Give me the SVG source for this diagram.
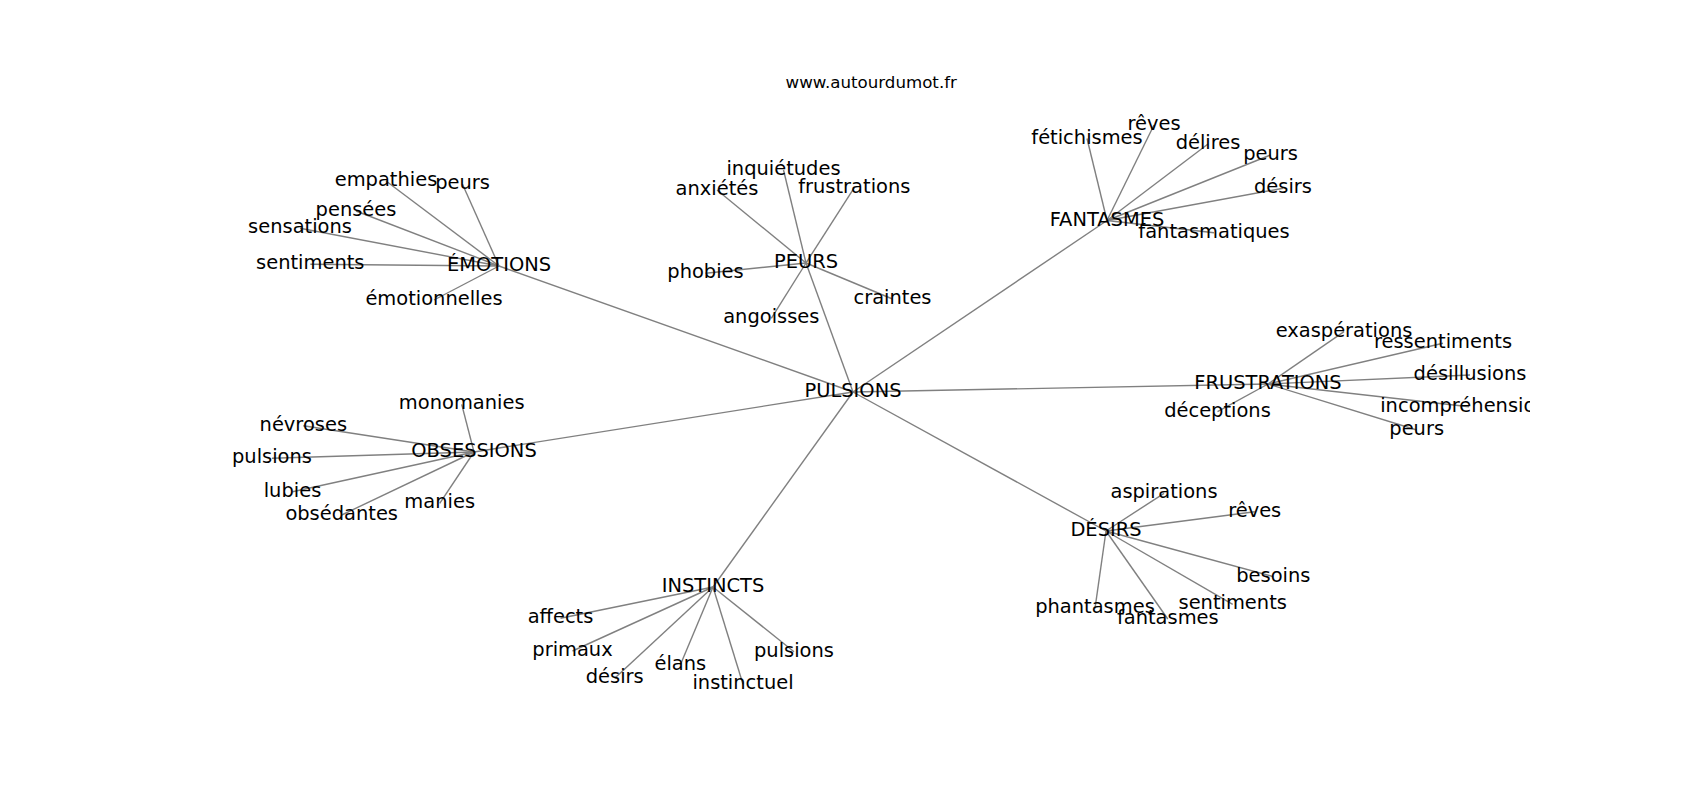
<svg xmlns="http://www.w3.org/2000/svg" width="1700" height="800" viewBox="0 0 1700 800">
<style>
.e{stroke:#808080;stroke-width:1.4;fill:none}
text{font-family:"DejaVu Sans","Liberation Sans",sans-serif;font-size:19.44px;fill:#000;text-anchor:middle}
.t{font-size:16.67px}
</style>
<defs><clipPath id="ax"><rect x="212.5" y="96" width="1317.5" height="616"/></clipPath></defs>
<rect width="1700" height="800" fill="#fff"/>
<text class="t" x="871.25" y="87.7">www.autourdumot.fr</text>
<g id="edges">
<line class="e" x1="853" y1="392" x2="499" y2="266"/>
<line class="e" x1="853" y1="392" x2="806" y2="263"/>
<line class="e" x1="853" y1="392" x2="1107" y2="220.5"/>
<line class="e" x1="853" y1="392" x2="1268" y2="384"/>
<line class="e" x1="853" y1="392" x2="1106" y2="531"/>
<line class="e" x1="853" y1="392" x2="713" y2="587"/>
<line class="e" x1="853" y1="392" x2="474" y2="452"/>
<line class="e" x1="499" y1="266" x2="386" y2="181"/>
<line class="e" x1="499" y1="266" x2="462.5" y2="184.3"/>
<line class="e" x1="499" y1="266" x2="356" y2="211"/>
<line class="e" x1="499" y1="266" x2="300" y2="228.3"/>
<line class="e" x1="499" y1="266" x2="310.3" y2="264.3"/>
<line class="e" x1="499" y1="266" x2="434" y2="300"/>
<line class="e" x1="806" y1="263" x2="783.5" y2="170"/>
<line class="e" x1="806" y1="263" x2="717" y2="190"/>
<line class="e" x1="806" y1="263" x2="854.3" y2="187.7"/>
<line class="e" x1="806" y1="263" x2="705.5" y2="273.3"/>
<line class="e" x1="806" y1="263" x2="892.5" y2="299"/>
<line class="e" x1="806" y1="263" x2="771.3" y2="318.3"/>
<line class="e" x1="1107" y1="220.5" x2="1087" y2="138.5"/>
<line class="e" x1="1107" y1="220.5" x2="1154" y2="125"/>
<line class="e" x1="1107" y1="220.5" x2="1208" y2="144"/>
<line class="e" x1="1107" y1="220.5" x2="1270.5" y2="155"/>
<line class="e" x1="1107" y1="220.5" x2="1283" y2="188.3"/>
<line class="e" x1="1107" y1="220.5" x2="1214" y2="232.7"/>
<line class="e" x1="1268" y1="384" x2="1344" y2="331.7"/>
<line class="e" x1="1268" y1="384" x2="1443" y2="343.3"/>
<line class="e" x1="1268" y1="384" x2="1470" y2="375"/>
<line class="e" x1="1268" y1="384" x2="1469" y2="406.7"/>
<line class="e" x1="1268" y1="384" x2="1416.7" y2="430"/>
<line class="e" x1="1268" y1="384" x2="1217.5" y2="411.7"/>
<line class="e" x1="1106" y1="531" x2="1164" y2="493.3"/>
<line class="e" x1="1106" y1="531" x2="1254.7" y2="511.7"/>
<line class="e" x1="1106" y1="531" x2="1273.3" y2="576.7"/>
<line class="e" x1="1106" y1="531" x2="1232.7" y2="604.3"/>
<line class="e" x1="1106" y1="531" x2="1167.8" y2="619"/>
<line class="e" x1="1106" y1="531" x2="1095" y2="608.3"/>
<line class="e" x1="713" y1="587" x2="560.5" y2="618.3"/>
<line class="e" x1="713" y1="587" x2="572.5" y2="651"/>
<line class="e" x1="713" y1="587" x2="614.7" y2="678.3"/>
<line class="e" x1="713" y1="587" x2="680.3" y2="665"/>
<line class="e" x1="713" y1="587" x2="743" y2="684.3"/>
<line class="e" x1="713" y1="587" x2="794" y2="651.7"/>
<line class="e" x1="474" y1="452" x2="461.7" y2="404.3"/>
<line class="e" x1="474" y1="452" x2="303.3" y2="425.7"/>
<line class="e" x1="474" y1="452" x2="272" y2="458.3"/>
<line class="e" x1="474" y1="452" x2="292.5" y2="491.7"/>
<line class="e" x1="474" y1="452" x2="341.7" y2="515"/>
<line class="e" x1="474" y1="452" x2="439.7" y2="503.3"/>
</g>
<g id="nodes">
<g id="n-pulsions"><text x="853" y="397">PULSIONS</text></g>
<g id="n-emotions"><text x="499" y="271">ÉMOTIONS</text></g>
<g id="n-emotions-empathies"><text x="386" y="186">empathies</text></g>
<g id="n-emotions-peurs"><text x="462.5" y="189.3">peurs</text></g>
<g id="n-emotions-pensees"><text x="356" y="216">pensées</text></g>
<g id="n-emotions-sensations"><text x="300" y="233.3">sensations</text></g>
<g id="n-emotions-sentiments"><text x="310.3" y="269.3">sentiments</text></g>
<g id="n-emotions-emotionnelles"><text x="434" y="305">émotionnelles</text></g>
<g id="n-peurs"><text x="806" y="268">PEURS</text></g>
<g id="n-peurs-inquietudes"><text x="783.5" y="175">inquiétudes</text></g>
<g id="n-peurs-anxietes"><text x="717" y="195">anxiétés</text></g>
<g id="n-peurs-frustrations"><text x="854.3" y="192.7">frustrations</text></g>
<g id="n-peurs-phobies"><text x="705.5" y="278.3">phobies</text></g>
<g id="n-peurs-craintes"><text x="892.5" y="304">craintes</text></g>
<g id="n-peurs-angoisses"><text x="771.3" y="323.3">angoisses</text></g>
<g id="n-fantasmes"><text x="1107" y="225.5">FANTASMES</text></g>
<g id="n-fantasmes-fetichismes"><text x="1087" y="143.5">fétichismes</text></g>
<g id="n-fantasmes-reves"><text x="1154" y="130">rêves</text></g>
<g id="n-fantasmes-delires"><text x="1208" y="149">délires</text></g>
<g id="n-fantasmes-peurs"><text x="1270.5" y="160">peurs</text></g>
<g id="n-fantasmes-desirs"><text x="1283" y="193.3">désirs</text></g>
<g id="n-fantasmes-fantasmatiques"><text x="1214" y="237.7">fantasmatiques</text></g>
<g id="n-frustrations"><text x="1268" y="389">FRUSTRATIONS</text></g>
<g id="n-frustrations-exasperations"><text x="1344" y="336.7">exaspérations</text></g>
<g id="n-frustrations-ressentiments"><text x="1443" y="348.3">ressentiments</text></g>
<g id="n-frustrations-desillusions"><text x="1470" y="380">désillusions</text></g>
<g id="n-frustrations-incomprehensions"><text x="1469" y="411.7" clip-path="url(#ax)">incompréhensions</text></g>
<g id="n-frustrations-peurs"><text x="1416.7" y="435">peurs</text></g>
<g id="n-frustrations-deceptions"><text x="1217.5" y="416.7">déceptions</text></g>
<g id="n-desirs"><text x="1106" y="536">DÉSIRS</text></g>
<g id="n-desirs-aspirations"><text x="1164" y="498.3">aspirations</text></g>
<g id="n-desirs-reves"><text x="1254.7" y="516.7">rêves</text></g>
<g id="n-desirs-besoins"><text x="1273.3" y="581.7">besoins</text></g>
<g id="n-desirs-sentiments"><text x="1232.7" y="609.3">sentiments</text></g>
<g id="n-desirs-fantasmes"><text x="1167.8" y="624">fantasmes</text></g>
<g id="n-desirs-phantasmes"><text x="1095" y="613.3">phantasmes</text></g>
<g id="n-instincts"><text x="713" y="592">INSTINCTS</text></g>
<g id="n-instincts-affects"><text x="560.5" y="623.3">affects</text></g>
<g id="n-instincts-primaux"><text x="572.5" y="656">primaux</text></g>
<g id="n-instincts-desirs"><text x="614.7" y="683.3">désirs</text></g>
<g id="n-instincts-elans"><text x="680.3" y="670">élans</text></g>
<g id="n-instincts-instinctuel"><text x="743" y="689.3">instinctuel</text></g>
<g id="n-instincts-pulsions"><text x="794" y="656.7">pulsions</text></g>
<g id="n-obsessions"><text x="474" y="457">OBSESSIONS</text></g>
<g id="n-obsessions-monomanies"><text x="461.7" y="409.3">monomanies</text></g>
<g id="n-obsessions-nevroses"><text x="303.3" y="430.7">névroses</text></g>
<g id="n-obsessions-pulsions"><text x="272" y="463.3">pulsions</text></g>
<g id="n-obsessions-lubies"><text x="292.5" y="496.7">lubies</text></g>
<g id="n-obsessions-obsedantes"><text x="341.7" y="520">obsédantes</text></g>
<g id="n-obsessions-manies"><text x="439.7" y="508.3">manies</text></g>
</g>
</svg>
